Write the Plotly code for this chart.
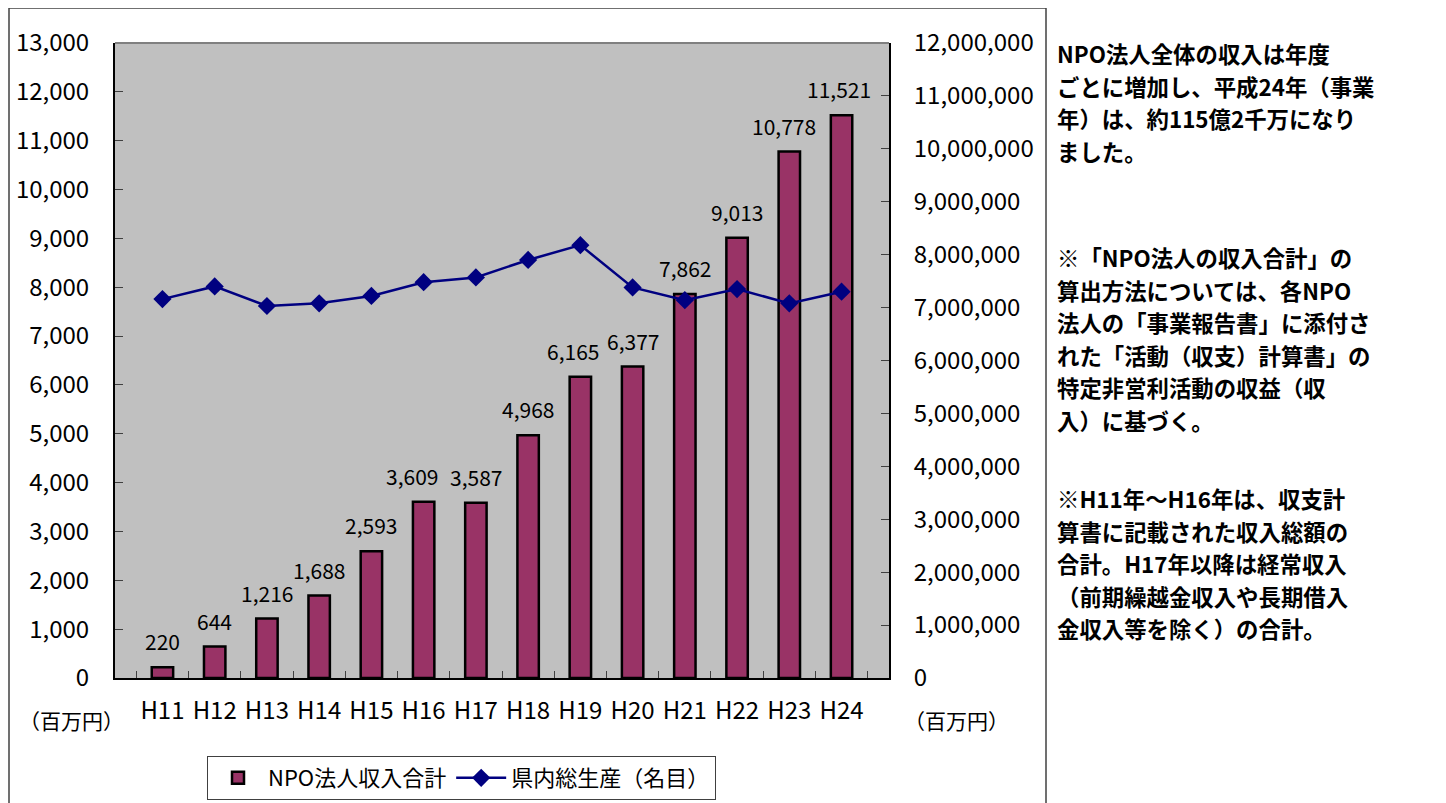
import plotly.graph_objects as go

categories = ["H11", "H12", "H13", "H14", "H15", "H16", "H17", "H18", "H19", "H20", "H21", "H22", "H23", "H24"]
npo_income = [220, 644, 1216, 1688, 2593, 3609, 3587, 4968, 6165, 6377, 7862, 9013, 10778, 11521]
gdp_nominal = [7160000, 7400000, 7030000, 7080000, 7220000, 7480000, 7570000, 7900000, 8180000, 7380000, 7140000, 7350000, 7080000, 7300000]

left_ticks = list(range(0, 13001, 1000))
right_ticks = list(range(0, 12000001, 1000000))

# horizontal nudges of value labels as placed in the original (pixels)
label_nudge = [0, 0, 0, 0, 0, -12, 0, 0, -7, 0, 0, 0, -5, -3]

side_text_1 = ["NPO法人全体の収入は年度", "ごとに増加し、平成24年（事業", "年）は、約115億2千万になり", "ました。"]
side_text_2 = ["※「NPO法人の収入合計」の", "算出方法については、各NPO", "法人の「事業報告書」に添付さ", "れた「活動（収支）計算書」の", "特定非営利活動の収益（収", "入）に基づく。"]
side_text_3 = ["※H11年～H16年は、収支計", "算書に記載された収入総額の", "合計。H17年以降は経常収入", "（前期繰越金収入や長期借入", "金収入等を除く）の合計。"]

FONT = "Noto Sans CJK JP"
OFF = 8  # default page body margin
W, H = 1446 - OFF, 803 - OFF
L, R, T, B = 115, 889, 43, 678  # plot area in page pixels


def xp(px):
    return (px - L) / (R - L)


def yp(py):
    return (B - py) / (B - T)


fig = go.Figure()
fig.add_trace(go.Bar(
    x=categories, y=npo_income, name="NPO法人収入合計",
    marker=dict(color="#993366", line=dict(color="black", width=2.5)),
    yaxis="y",
))
fig.add_trace(go.Scatter(
    x=categories, y=gdp_nominal, name="県内総生産（名目）",
    mode="lines+markers",
    line=dict(color="#000080", width=2.5),
    marker=dict(symbol="diamond", size=14, color="#000080"),
    yaxis="y2",
))

annotations = []
for c, v, dx in zip(categories, npo_income, label_nudge):
    annotations.append(dict(x=c, y=v, xref="x", yref="y", text=f"{v:,}", showarrow=False,
                            yanchor="bottom", yshift=9, xshift=dx,
                            font=dict(family=FONT, size=21, color="black")))

annotations.append(dict(x=xp(71), y=yp(720), xref="paper", yref="paper", text="（百万円）", showarrow=False,
                        xanchor="center", yanchor="middle", font=dict(family=FONT, size=21, color="black")))
annotations.append(dict(x=xp(956), y=yp(720), xref="paper", yref="paper", text="（百万円）", showarrow=False,
                        xanchor="center", yanchor="middle", font=dict(family=FONT, size=21, color="black")))

SIDE_SIZE = 22.4
SIDE_STEP = 32.5
for block, start in ((side_text_1, 53), (side_text_2, 257), (side_text_3, 498)):
    for i, s in enumerate(block):
        annotations.append(dict(x=xp(1055), y=yp(start + SIDE_STEP * i), xref="paper", yref="paper",
                                text=f"<b>{s}</b>", showarrow=False,
                                xanchor="left", yanchor="middle", align="left",
                                font=dict(family=FONT, size=SIDE_SIZE, color="black")))

FRAME = "#404040"
shapes = [
    dict(type="line", xref="paper", yref="paper", x0=xp(9), x1=xp(9), y0=yp(812), y1=yp(8),
         line=dict(color=FRAME, width=1.5)),
    dict(type="line", xref="paper", yref="paper", x0=xp(9), x1=xp(1046), y0=yp(8), y1=yp(8),
         line=dict(color=FRAME, width=1.5)),
    dict(type="line", xref="paper", yref="paper", x0=xp(1046), x1=xp(1046), y0=yp(812), y1=yp(8),
         line=dict(color=FRAME, width=1.5)),
    dict(type="line", xref="paper", yref="paper", x0=0, x1=1, y0=1, y1=1,
         line=dict(color="#808080", width=2)),
]

fig.update_layout(
    width=W, height=H,
    margin=dict(l=L - OFF, r=W - (R - OFF), t=T - OFF, b=H - (B - OFF), autoexpand=False),
    paper_bgcolor="white", plot_bgcolor="#c0c0c0",
    bargap=0.59,
    showlegend=True,
    legend=dict(orientation="h", x=xp(207), y=yp(756), xanchor="left", yanchor="top",
                bordercolor=FRAME, borderwidth=1, bgcolor="white",
                font=dict(family=FONT, size=22, color="black"), itemwidth=50),
    font=dict(family=FONT, color="black"),
    xaxis=dict(type="category", showline=True, linecolor="black", linewidth=2,
               ticks="inside", tickson="boundaries", ticklen=7, tickcolor="#404040",
               tickangle=0,
               tickfont=dict(family=FONT, size=24, color="black"), showgrid=False,
               ticklabelstandoff=10),
    yaxis=dict(range=[0, 13000], tickvals=left_ticks, tickformat=",d", showline=True,
               linecolor="black", linewidth=2, ticks="inside", ticklen=8, tickcolor="#404040",
               tickfont=dict(family=FONT, size=24, color="black"), showgrid=False, zeroline=False,
               ticklabelstandoff=19),
    yaxis2=dict(range=[0, 12000000], tickvals=right_ticks, tickformat=",d", overlaying="y", side="right",
                showline=True, linecolor="black", linewidth=2, ticks="inside", ticklen=8, tickcolor="#404040",
                tickfont=dict(family=FONT, size=24, color="black"), showgrid=False, zeroline=False,
                ticklabelstandoff=18),
    annotations=annotations,
    shapes=shapes,
)

fig.write_html("out.html")
